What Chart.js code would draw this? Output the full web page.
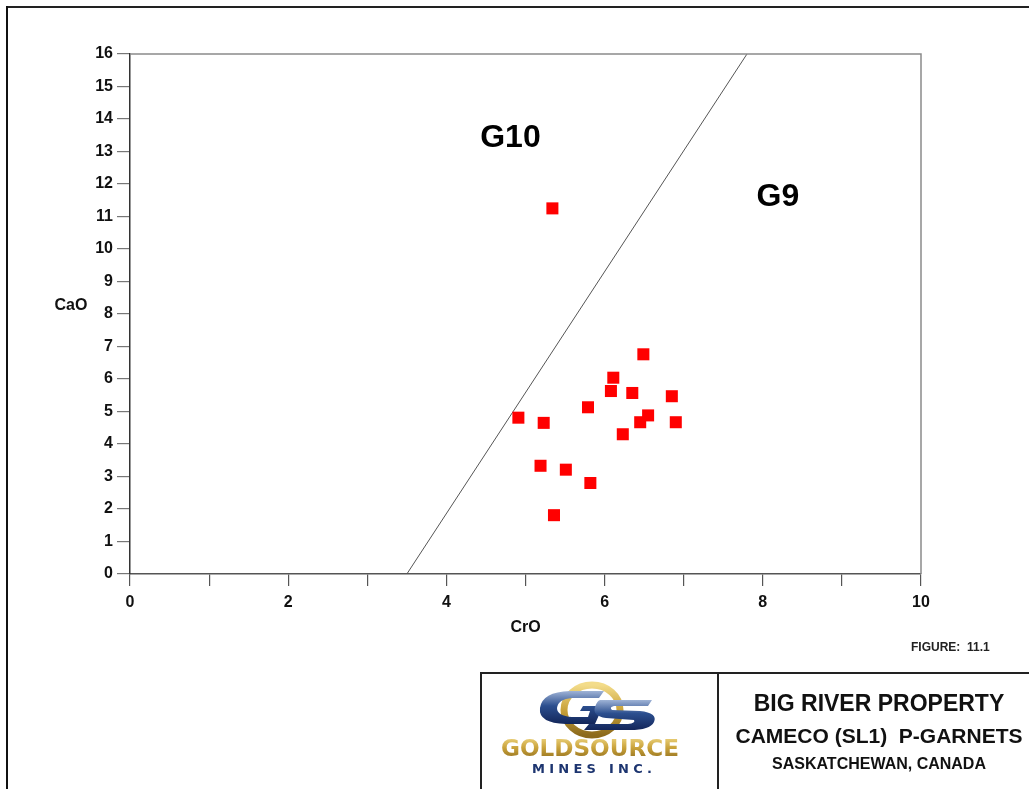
<!DOCTYPE html>
<html>
<head>
<meta charset="utf-8">
<script src="https://cdn.jsdelivr.net/npm/chart.js@4/dist/chart.umd.min.js"></script>
<style>
  html, body { margin: 0; padding: 0; background: #fff; }
  #wrap { position: relative; width: 1029px; height: 789px; overflow: hidden; font-family: "Liberation Sans", Arial, sans-serif; }
  #c { position: absolute; left: 0; top: 0; }
  .frameTop { position: absolute; left: 6px; top: 6px; width: 1030px; height: 2px; background: #222; }
  .frameLeft { position: absolute; left: 6px; top: 6px; width: 2px; height: 790px; background: #111; }
  #tbox { position: absolute; left: 480px; top: 672px; width: 560px; height: 130px; border: 2px solid #222; box-sizing: border-box; }
  #divider { position: absolute; left: 717px; top: 672px; width: 2px; height: 120px; background: #222; }
  .tt { position: absolute; font-weight: bold; color: #111; white-space: nowrap; text-align: center; }
  #fig { position: absolute; left: 911px; top: 640px; font-size: 12px; font-weight: bold; color: #222; white-space: nowrap; }
  #logo { position: absolute; left: 500px; top: 680px; }
</style>
</head>
<body>
<div id="wrap">
  <canvas id="c" width="1029" height="789"></canvas>
  <div class="frameTop"></div>
  <div class="frameLeft"></div>
  <div id="fig">FIGURE:&nbsp; 11.1</div>
  <div id="tbox"></div>
  <div id="divider"></div>
  <div class="tt" style="left:719px; width:320px; top:690px; font-size:23px;">BIG RIVER PROPERTY</div>
  <div class="tt" style="left:719px; width:320px; top:724px; font-size:21px;">CAMECO (SL1)&nbsp; P-GARNETS</div>
  <div class="tt" style="left:719px; width:320px; top:755px; font-size:16px;">SASKATCHEWAN, CANADA</div>
  <svg id="logo" width="200" height="104" viewBox="0 0 200 104">
    <defs>
      <linearGradient id="gold" x1="0" y1="0" x2="0" y2="1">
        <stop offset="0" stop-color="#f3dc8a"/>
        <stop offset="0.5" stop-color="#c9a23a"/>
        <stop offset="1" stop-color="#8c6a1c"/>
      </linearGradient>
      <linearGradient id="blue" x1="0" y1="0" x2="0" y2="1">
        <stop offset="0" stop-color="#9fb3d6"/>
        <stop offset="0.45" stop-color="#2c4f8f"/>
        <stop offset="1" stop-color="#13265a"/>
      </linearGradient>
    </defs>
    <ellipse cx="92" cy="30" rx="28" ry="25" fill="none" stroke="url(#gold)" stroke-width="7"/>
    <path d="M40 28 Q42 12 70 11 L104 11 L99 18 L72 18 Q58 19 57 28 Q57 36 72 37 L88 37 L90 31 L80 31 L83 26 L103 26 L95 44 L66 44 Q38 43 40 28 Z" fill="url(#blue)"/>
    <path d="M100 20 L152 20 L148 26 L114 26 Q109 27 112 30 L140 31 Q158 33 154 42 Q150 50 130 50 L84 50 L89 44 L128 44 Q136 43 134 40 L106 38 Q92 36 95 27 Q97 21 100 20 Z" fill="url(#blue)"/>
    <text x="90" y="76" text-anchor="middle" font-family="DejaVu Sans, sans-serif" font-weight="bold" font-size="23" fill="url(#gold)" textLength="178" lengthAdjust="spacingAndGlyphs">GOLDSOURCE</text>
    <text x="92" y="93" text-anchor="middle" font-family="DejaVu Sans, sans-serif" font-weight="bold" font-size="13" fill="#1d3570" textLength="120" lengthAdjust="spacing">MINES INC.</text>
  </svg>
</div>
<script>
// ---- data ----
const crO = [6.49, 6.11, 6.08, 6.35, 6.85, 5.79, 6.55, 6.45, 6.90, 4.91, 5.23, 6.23, 5.19, 5.51, 5.82, 5.36, 5.34];
const caO = [6.76, 6.04, 5.63, 5.57, 5.47, 5.13, 4.88, 4.67, 4.67, 4.81, 4.65, 4.30, 3.33, 3.21, 2.80, 1.81, 11.25];
const boundaryX = [3.5, 7.8];
const boundaryY = [0, 16];
const xTicks = [0, 1, 2, 3, 4, 5, 6, 7, 8, 9, 10];
const yTicks = [0, 1, 2, 3, 4, 5, 6, 7, 8, 9, 10, 11, 12, 13, 14, 15, 16];
const fieldLabels = ["G10", "G9"];
const fieldX = [4.81, 8.19];
const fieldY = [13.4, 11.6];

const points = crO.map((x, i) => ({ x: x, y: caO[i] }));
const line = boundaryX.map((x, i) => ({ x: x, y: boundaryY[i] }));

const overlay = {
  id: 'overlay',
  afterDatasetsDraw(chart) {
    const ctx = chart.ctx;
    const xs = chart.scales.x, ys = chart.scales.y;
    const a = chart.chartArea;
    ctx.save();
    ctx.strokeStyle = '#8a8a8a';
    ctx.lineWidth = 1.5;
    ctx.beginPath();
    ctx.moveTo(a.left, a.top);
    ctx.lineTo(a.right, a.top);
    ctx.lineTo(a.right, a.bottom);
    ctx.stroke();
    ctx.fillStyle = '#000';
    ctx.font = 'bold 32px "Liberation Sans", Arial, sans-serif';
    ctx.textAlign = 'center';
    ctx.textBaseline = 'middle';
    fieldLabels.forEach((t, i) => {
      ctx.fillText(t, xs.getPixelForValue(fieldX[i]), ys.getPixelForValue(fieldY[i]));
    });
    ctx.font = 'bold 16px "Liberation Sans", Arial, sans-serif';
    ctx.fillStyle = '#111';
    ctx.fillText('CaO', 71, ys.getPixelForValue(8.25));
    ctx.restore();
  }
};

new Chart(document.getElementById('c'), {
  type: 'scatter',
  data: {
    datasets: [
      {
        label: 'boundary',
        type: 'line',
        data: line,
        borderColor: '#555',
        borderWidth: 1,
        pointRadius: 0,
        fill: false,
        order: 2
      },
      {
        label: 'P-garnets',
        data: points,
        pointStyle: 'rect',
        pointRadius: 8.5,
        backgroundColor: '#ff0000',
        borderColor: '#ff0000',
        borderWidth: 0,
        order: 1
      }
    ]
  },
  options: {
    responsive: false,
    animation: false,
    devicePixelRatio: 1,
    layout: { padding: { left: 0, right: 108, top: 54, bottom: 152 } },
    plugins: { legend: { display: false }, tooltip: { enabled: false } },
    scales: {
      x: {
        type: 'linear',
        min: 0, max: 10,
        afterBuildTicks: (s) => { s.ticks = xTicks.map(v => ({ value: v })); },
        afterFit: (s) => { s.height = 63; },
        border: { display: true, color: '#555', width: 1.5 },
        grid: { drawOnChartArea: false, drawTicks: true, tickLength: 12, color: '#555', lineWidth: 1.2 },
        ticks: {
          color: '#111',
          padding: 7,
          font: { family: '"Liberation Sans", Arial, sans-serif', size: 16, weight: 'bold' },
          callback: (v) => (v % 2 === 0 ? String(v) : '')
        },
        title: {
          display: true,
          text: 'CrO',
          color: '#111',
          padding: { top: 4, bottom: 0 },
          font: { family: '"Liberation Sans", Arial, sans-serif', size: 16, weight: 'bold' }
        }
      },
      y: {
        type: 'linear',
        min: 0, max: 16,
        afterBuildTicks: (s) => { s.ticks = yTicks.map(v => ({ value: v })); },
        afterFit: (s) => { s.width = 130; },
        border: { display: true, color: '#333', width: 1.5 },
        grid: { drawOnChartArea: false, drawTicks: true, tickLength: 13, color: '#777', lineWidth: 1.2 },
        ticks: {
          color: '#111',
          padding: 4,
          font: { family: '"Liberation Sans", Arial, sans-serif', size: 16, weight: 'bold' },
          callback: (v) => String(v)
        }
      }
    }
  },
  plugins: [overlay]
});
</script>
</body>
</html>
